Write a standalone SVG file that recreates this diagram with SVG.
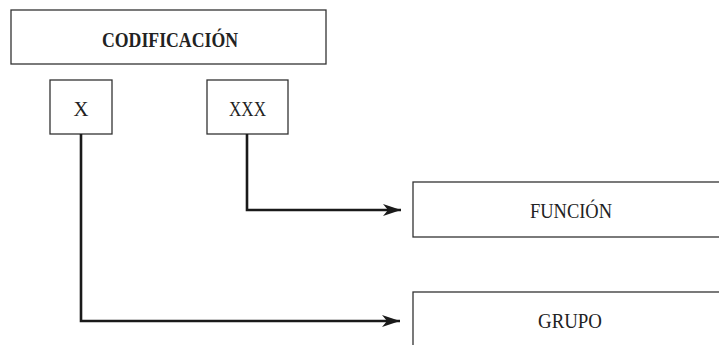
<svg xmlns="http://www.w3.org/2000/svg" width="719" height="345" viewBox="0 0 719 345">
<style>
.box{fill:#fff;stroke:#333;stroke-width:1.3}
.t{font-family:"Liberation Serif","Times New Roman",serif;font-size:22px;fill:#222;text-anchor:middle}
.b{font-weight:bold}
.c{fill:none;stroke:#1a1a1a;stroke-width:2.6}
</style>
<defs>
<marker id="ah" markerUnits="userSpaceOnUse" markerWidth="19" markerHeight="13" refX="18" refY="6.5" orient="auto">
<path d="M0,0.5 L18,6.5 L0,12.5 L5,6.5 Z" fill="#1a1a1a"/>
</marker>
</defs>
<rect width="719" height="345" fill="#fff"/>
<g id="codificacion">
<rect class="box" x="11" y="10" width="315" height="54"/>
<text class="t b" x="170" y="47" textLength="136" lengthAdjust="spacingAndGlyphs">CODIFICACIÓN</text>
</g>
<g id="x">
<rect class="box" x="50" y="80" width="62" height="54"/>
<text class="t" x="81" y="116" textLength="15" lengthAdjust="spacingAndGlyphs">X</text>
</g>
<g id="xxx">
<rect class="box" x="207" y="80" width="81" height="54"/>
<text class="t" x="247.5" y="116" textLength="37" lengthAdjust="spacingAndGlyphs">XXX</text>
</g>
<g id="funcion">
<rect class="box" x="413" y="182" width="320" height="55"/>
<text class="t" x="571" y="218" textLength="82" lengthAdjust="spacingAndGlyphs">FUNCIÓN</text>
</g>
<g id="grupo">
<rect class="box" x="413" y="292" width="320" height="70"/>
<text class="t" x="570" y="328" textLength="64" lengthAdjust="spacingAndGlyphs">GRUPO</text>
</g>
<g id="connectors">
<path class="c" d="M247,134 V210 H401" marker-end="url(#ah)"/>
<path class="c" d="M81,134 V321 H400" marker-end="url(#ah)"/>
</g>
</svg>
